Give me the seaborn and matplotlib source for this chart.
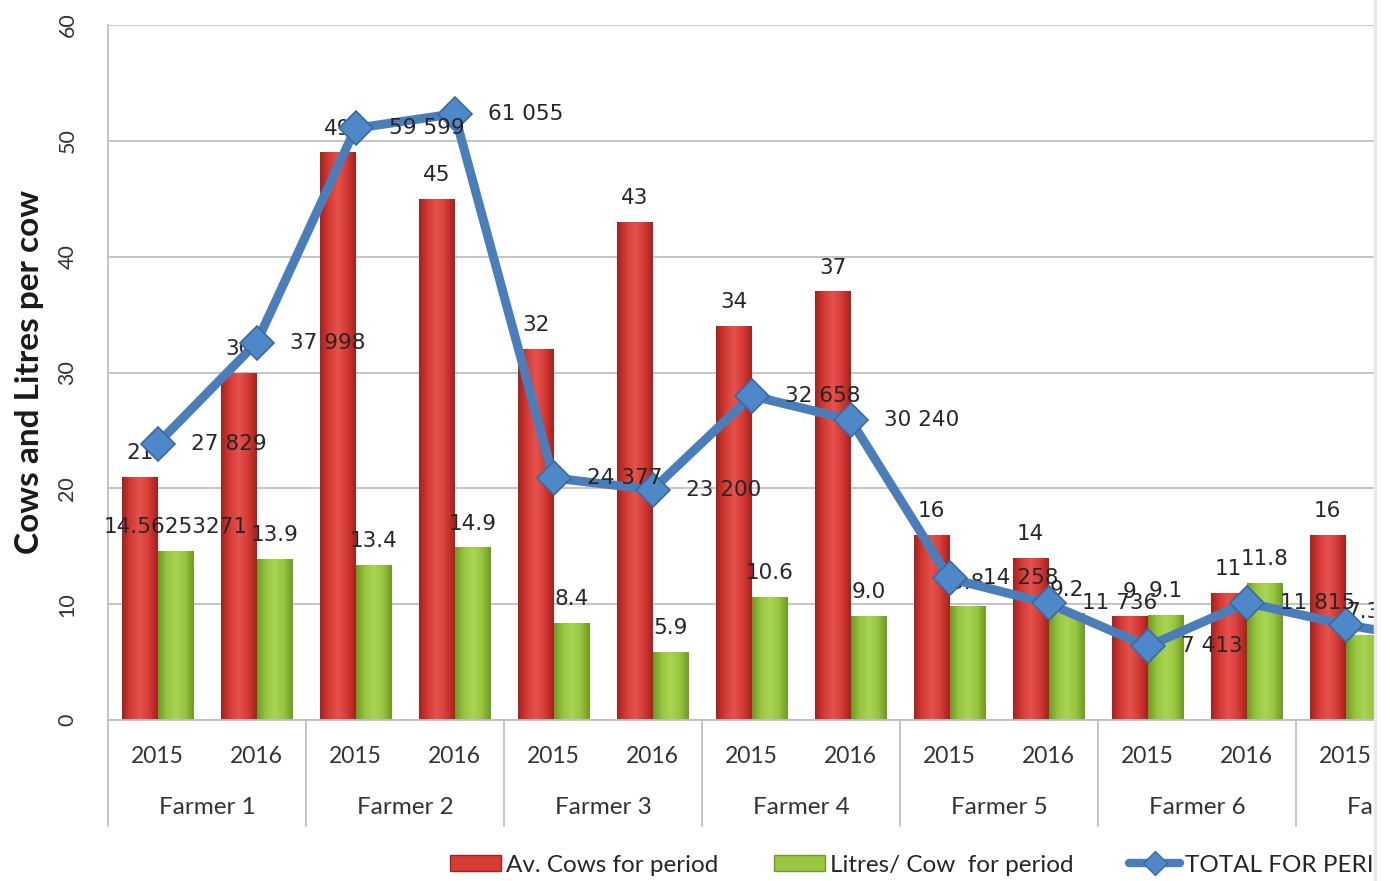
import numpy as np
import pandas as pd
import seaborn as sns
import matplotlib.pyplot as plt
import matplotlib.transforms as mtransforms
from matplotlib.colors import LinearSegmentedColormap
from matplotlib.patches import Patch, Rectangle
from matplotlib.lines import Line2D

# Data (Farmer 7 is cut off at the right edge)
farmers = ['Farmer 1', 'Farmer 2', 'Farmer 3', 'Farmer 4', 'Farmer 5', 'Farmer 6', 'Farmer 7']
years = ['2015', '2016']
av_cows = [21, 30, 49, 45, 32, 43, 34, 37, 16, 14, 9, 11, 16]
litres_per_cow = [14.56253271, 13.9, 13.4, 14.9, 8.4, 5.9, 10.6, 9.0, 9.8, 9.2, 9.1, 11.8, 7.3]
total_period = [27829, 37998, 59599, 61055, 24377, 23200, 32658, 30240,
                14258, 11736, 7413, 11815, 9600, 7900]

series_names = ['Av. Cows for period', 'Litres/ Cow  for period', 'TOTAL FOR PERIOD']

slots = [f'{f}|{y}' for f in farmers for y in years]
n = len(av_cows)
bars_df = pd.concat([
    pd.DataFrame({'slot': slots[:n], 'value': av_cows, 'series': series_names[0]}),
    pd.DataFrame({'slot': slots[:n], 'value': litres_per_cow, 'series': series_names[1]}),
])
line_df = pd.DataFrame({'pos': np.arange(len(total_period)), 'total': total_period})

red, green, blue = '#D63B36', '#98C640', '#4A7EBB'

sns.set_style('white')
plt.rcParams['font.family'] = ['Lato', 'DejaVu Sans']

W, H = 1390, 881
fig = plt.figure(figsize=(W / 100, H / 100), dpi=100)
slot_px = 99
left_px, base_px, top_px = 108, 720, 25
ax_w = slot_px * len(slots)
ax_h = base_px - top_px
ax = fig.add_axes([left_px / W, (H - base_px) / H, ax_w / W, ax_h / H])

sns.barplot(data=bars_df, x='slot', y='value', hue='series', order=slots,
            palette=[red, green], width=0.72, saturation=1, legend=False,
            edgecolor='none', ax=ax)

# fake the Excel bevel look with a horizontal gradient clipped to each bar
def shade(container, cols):
    cmap = LinearSegmentedColormap.from_list('', cols)
    grad = np.linspace(0, 1, 64).reshape(1, -1)
    for b in container:
        x0, w, h = b.get_x(), b.get_width(), b.get_height()
        im = ax.imshow(grad, extent=[x0, x0 + w, 0, h], cmap=cmap, aspect='auto',
                       interpolation='bicubic', zorder=b.get_zorder())
        im.set_clip_path(b)

shade(ax.containers[0], ['#A5211D', '#D63B36', '#E4534E', '#D63B36', '#A5211D'])
shade(ax.containers[1], ['#6F9A24', '#98C640', '#AAD553', '#98C640', '#6F9A24'])

ax.set_xlim(-0.5, len(slots) - 0.5)
ax.set_ylim(0, 60)
ax.set_yticks(range(0, 61, 10))
ax.yaxis.grid(True, color='#BFBFBF', lw=1.3)
ax.set_axisbelow(True)
for s in ['top', 'right']:
    ax.spines[s].set_visible(False)
for s in ['left', 'bottom']:
    ax.spines[s].set_color('#BFBFBF')
    ax.spines[s].set_linewidth(1.3)

ax.set_xticks(range(len(slots)))
ax.set_xticklabels([s.split('|')[1] for s in slots])
ax.tick_params(axis='x', length=0, pad=19, labelsize=16.5, labelcolor='#333333')
ax.tick_params(axis='y', length=0, pad=22, labelsize=15.5, labelcolor='#333333', labelrotation=90)
for t in ax.get_yticklabels():
    t.set_va('center')
ax.set_xlabel('')
ax.set_ylabel('Cows and Litres per cow', fontsize=24, fontweight='bold', color='#1a1a1a')
ax.yaxis.set_label_coords((44 - left_px) / ax_w, 0.5)

# second category row + group separators
trans = mtransforms.blended_transform_factory(ax.transData, ax.transAxes)
for i, f in enumerate(farmers):
    ax.text(2 * i + 0.5, -(808 - base_px) / ax_h, f, transform=trans, ha='center', va='center',
            fontsize=17.5, color='#333333')
for b in np.arange(-0.5, len(slots), 2):
    ax.plot([b, b], [0, -(826 - base_px) / ax_h], transform=trans, color='#BFBFBF', lw=1.3,
            clip_on=False)

# bar labels
cow_labels = [str(v) for v in av_cows]
litre_labels = [str(v) if round(v, 1) != v else f'{v:.1f}' for v in litres_per_cow]
for cont, labs in zip(ax.containers, [cow_labels, litre_labels]):
    for b, lab in zip(cont, labs):
        ax.annotate(lab, (b.get_x() + b.get_width() / 2, b.get_height()), xytext=(0, 10),
                    textcoords='offset points', ha='center', va='bottom', fontsize=15.5,
                    family='DejaVu Sans', color='#262626')

# total line on a hidden secondary axis
ax2 = ax.twinx()
sns.lineplot(data=line_df, x='pos', y='total', ax=ax2, color=blue, lw=6.5, marker='D',
             markersize=17, markerfacecolor='#4F88C8', markeredgecolor='#3A69A3',
             markeredgewidth=1.2)
ax2.set_ylim(0, 70000)
ax2.set_xlim(-0.5, len(slots) - 0.5)
ax2.set_axis_off()
for i, v in enumerate(total_period):
    ax2.annotate(f'{v:,}'.replace(',', ' '), (i, v), xytext=(24, 0), textcoords='offset points',
                 ha='left', va='center', fontsize=15.5, family='DejaVu Sans', color='#262626')

handles = [Patch(facecolor=red, edgecolor='#A5211D'),
           Patch(facecolor=green, edgecolor='#6F9A24'),
           Line2D([0], [0], color=blue, lw=6, marker='D', markersize=12,
                  markerfacecolor='#4F88C8', markeredgecolor='#3A69A3')]
fig.legend(handles, series_names, loc='center left', bbox_to_anchor=(450 / W, (H - 865) / H),
           ncol=3, frameon=False, fontsize=17.5, handlelength=2.1, handleheight=0.65,
           columnspacing=2.3, handletextpad=0.2, borderaxespad=0, borderpad=0,
           labelcolor='#262626')

# the source picture is cut off on the right
fig.add_artist(Rectangle((1374 / W, 0), 1, 1, transform=fig.transFigure, facecolor='white',
                         edgecolor='none', zorder=20))
fig.add_artist(Line2D([1375 / W] * 2, [0, 1], transform=fig.transFigure, color='#E8E8E8',
                      lw=2.5, zorder=21))

fig.savefig('out.png', dpi=100)
